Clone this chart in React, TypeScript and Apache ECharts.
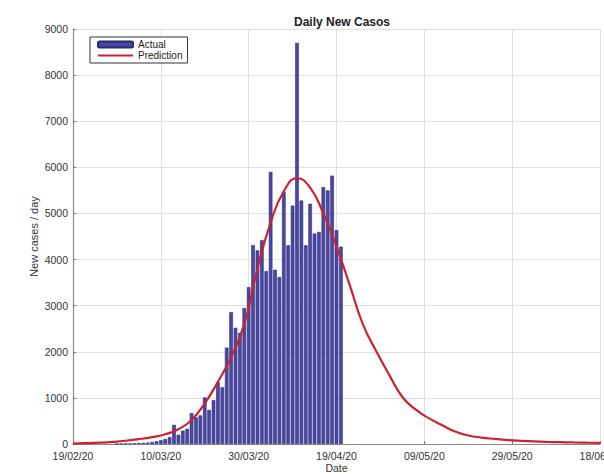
import React, { useEffect, useRef } from 'react';
import * as echarts from 'echarts';

// x axis: day index counted from 19/02/20 (day 0) to 18/06/20 (day 120)
const xTickLabels = ['19/02/20', '10/03/20', '30/03/20', '19/04/20', '09/05/20', '29/05/20', '18/06/20'];

const actualDays = [
  10, 11, 12, 13, 14, 15, 16, 17, 18, 19, 20, 21, 22, 23, 24, 25, 26, 27, 28, 29,
  30, 31, 32, 33, 34, 35, 36, 37, 38, 39, 40, 41, 42, 43, 44, 45, 46, 47, 48, 49,
  50, 51, 52, 53, 54, 55, 56, 57, 58, 59, 60, 61,
];
const actualValues = [
  5, 8, 10, 12, 15, 20, 25, 30, 45, 60, 80, 110, 150, 415, 200, 290, 330, 670, 580, 620,
  1010, 740, 950, 1340, 1230, 2090, 2860, 2520, 2410, 2950, 3400, 4313, 4200, 4420, 3750, 5900, 3780, 3620, 5470, 4310,
  5170, 8700, 5280, 4310, 5210, 4565, 4600, 5570, 5500, 5820, 4640, 4280,
];

const predictionDays = [
  0, 3, 6, 9, 12, 15, 18, 21, 24, 27, 30, 33, 36, 39, 42, 45, 48, 51, 54, 57,
  60, 63, 66, 69, 72, 75, 78, 81, 84, 87, 90, 93, 96, 99, 102, 105, 108, 111, 114, 117, 120,
];
const predictionValues = [
  10, 17, 28, 45, 70, 105, 150, 210, 320, 520, 880, 1350, 1880, 2600, 3800, 4800, 5480, 5765, 5560, 5000,
  4280, 3450, 2600, 2020, 1500, 1020, 750, 560, 410, 270, 185, 140, 110, 85, 68, 55, 46, 40, 34, 29, 25,
];

const FONT = "'Liberation Sans', Arial, sans-serif";

export default function App() {
  const ref = useRef<HTMLDivElement>(null);

  useEffect(() => {
    document.body.style.margin = '0';
    const chart = echarts.init(ref.current as HTMLDivElement, null, { renderer: 'svg' });
    chart.setOption({
      animation: false,
      backgroundColor: '#ffffff',
      textStyle: { fontFamily: FONT },
      title: {
        text: 'Daily New Casos',
        left: 337,
        top: 11,
        textAlign: 'center',
        textStyle: { fontSize: 12, fontWeight: 'bold', color: '#222', fontFamily: FONT },
      },
      legend: {
        left: 90,
        top: 37,
        orient: 'vertical',
        backgroundColor: '#ffffff',
        borderColor: '#333',
        borderWidth: 1,
        borderRadius: 0,
        padding: [2, 5, 2, 7],
        itemGap: 0,
        itemWidth: 35,
        itemHeight: 6,
        textStyle: { fontSize: 10, lineHeight: 11, color: '#222', fontFamily: FONT },
        data: [
          { name: 'Actual' },
          { name: 'Prediction', itemStyle: { opacity: 0 } },
        ],
      },
      grid: { left: 73, right: 4, top: 29, bottom: 30, containLabel: false, outerBoundsMode: 'none' },
      xAxis: {
        type: 'value',
        min: 0,
        max: 120,
        interval: 20,
        name: 'Date',
        nameLocation: 'middle',
        nameGap: 18,
        nameMoveOverlap: false,
        nameTextStyle: { fontSize: 10.5, color: '#333', fontFamily: FONT },
        axisLine: { show: true, lineStyle: { color: '#8a8a8a', width: 1.2 } },
        axisTick: { show: true, inside: true, length: 3, lineStyle: { color: '#777' } },
        axisLabel: {
          fontSize: 10.5,
          color: '#333',
          margin: 6,
          fontFamily: FONT,
          formatter: (v: number) => xTickLabels[Math.round(v / 20)] ?? '',
        },
        splitLine: { show: true, lineStyle: { color: '#e0e0e0', width: 1 } },
      },
      yAxis: {
        type: 'value',
        min: 0,
        max: 9000,
        interval: 1000,
        name: 'New cases / day',
        nameLocation: 'middle',
        nameGap: 34,
        nameMoveOverlap: false,
        nameTextStyle: { fontSize: 11, color: '#333', fontFamily: FONT },
        axisLine: { show: true, lineStyle: { color: '#8a8a8a', width: 1.2 } },
        axisTick: { show: true, inside: true, length: 3, lineStyle: { color: '#777' } },
        axisLabel: { fontSize: 10.5, color: '#333', margin: 5, fontFamily: FONT, formatter: (v: number) => String(v) },
        splitLine: { show: true, lineStyle: { color: '#e0e0e0', width: 1 } },
      },
      series: [
        {
          name: 'Actual',
          type: 'bar',
          barWidth: 3.6,
          data: actualDays.map((d, i) => [d, actualValues[i]]),
          itemStyle: { color: '#4a47a8', borderColor: '#2b2a6e', borderWidth: 0.6 },
          z: 2,
        },
        {
          name: 'Prediction',
          type: 'line',
          smooth: 0.5,
          symbol: 'none',
          data: predictionDays.map((d, i) => [d, predictionValues[i]]),
          lineStyle: { color: '#cc2230', width: 2.2 },
          itemStyle: { color: '#cc2230' },
          z: 3,
        },
      ],
    });
    return () => chart.dispose();
  }, []);

  return (
    <div
      ref={ref}
      style={{ position: 'absolute', left: 0, top: 0, width: 604, height: 474, background: '#fff' }}
    />
  );
}
